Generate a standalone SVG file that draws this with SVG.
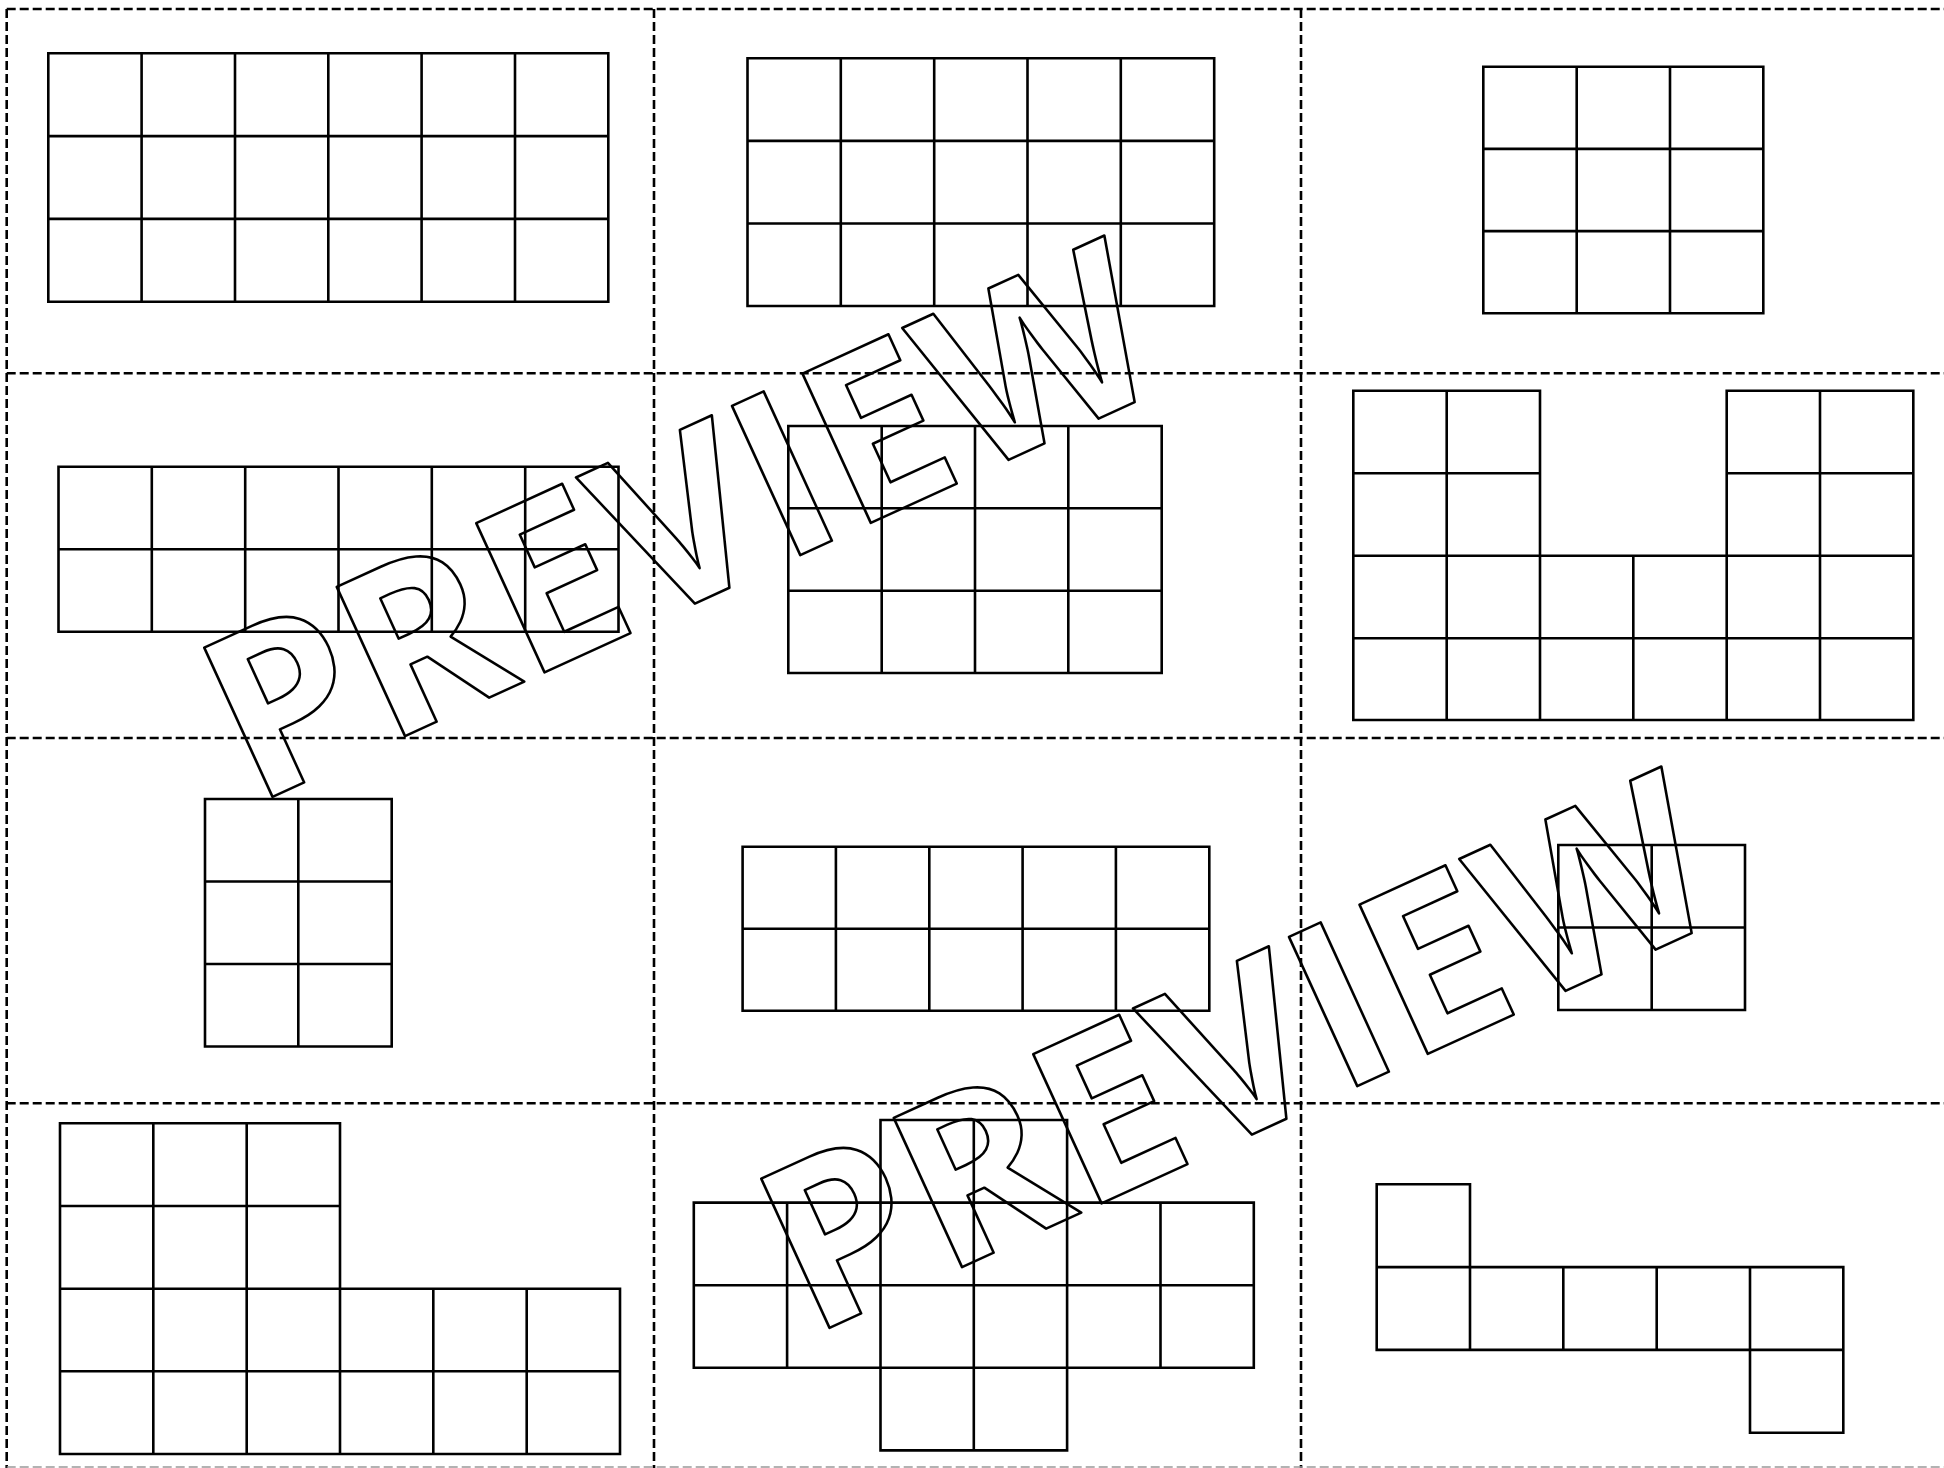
<svg xmlns="http://www.w3.org/2000/svg" width="1944" height="1468" viewBox="0 0 1944 1468">
<style>
.dash{stroke:#000;stroke-width:2.6;stroke-dasharray:9 4;fill:none}
.g{stroke:#000;stroke-width:2.6;fill:none;stroke-linecap:square}
.wm{font-family:"Open Sans","Noto Sans",sans-serif;font-weight:700;font-size:230px;letter-spacing:1.5px;fill:none;stroke:#000;stroke-width:2.6;stroke-linejoin:round}
</style>
<rect width="1944" height="1468" fill="#fff"/>
<g id="cut-lines">
<path class="dash" d="M6.7,9H1944 M6.7,373.3H1944 M6.7,738H1944 M6.7,1103.3H1944 M6.7,9V1468 M654,9V1468 M1301,9V1468"/>
<path d="M6.7,1467H1944" stroke="#999" stroke-width="1.6" stroke-dasharray="9 4" fill="none"/>
</g>
<g id="shape-r1c1"><path class="g" d="M48.3,53.3H608.3V301.7H48.3Z M141.6,53.3V301.7 M235,53.3V301.7 M328.3,53.3V301.7 M421.6,53.3V301.7 M515,53.3V301.7 M48.3,136.1H608.3 M48.3,218.9H608.3"/></g>
<g id="shape-r1c2"><path class="g" d="M747.5,58.3H1214.2V306H747.5Z M840.8,58.3V306 M934.2,58.3V306 M1027.5,58.3V306 M1120.8,58.3V306 M747.5,140.9H1214.2 M747.5,223.5H1214.2"/></g>
<g id="shape-r1c3"><path class="g" d="M1483.3,66.7H1763.3V313.3H1483.3Z M1576.7,66.7V313.3 M1670,66.7V313.3 M1483.3,148.9H1763.3 M1483.3,231.1H1763.3"/></g>
<g id="shape-r2c1"><path class="g" d="M58.5,466.7H618.5V631.7H58.5Z M151.8,466.7V631.7 M245.2,466.7V631.7 M338.5,466.7V631.7 M431.8,466.7V631.7 M525.2,466.7V631.7 M58.5,549.2H618.5"/></g>
<g id="shape-r2c2"><path class="g" d="M788.3,426H1161.7V673H788.3Z M881.7,426V673 M975,426V673 M1068.3,426V673 M788.3,508.3H1161.7 M788.3,590.7H1161.7"/></g>
<g id="shape-r2c3"><path class="g" d="M1353.3,390.7H1540V555.7H1726.7V390.7H1913.3V720H1353.3Z M1446.7,390.7V720 M1540,390.7V720 M1633.3,555.7V720 M1726.7,390.7V720 M1820,390.7V720 M1353.3,473.3H1540 M1726.7,473.3H1913.3 M1353.3,555.7H1913.3 M1353.3,638.3H1913.3"/></g>
<g id="shape-r3c1"><path class="g" d="M205,799H391.7V1046.5H205Z M298.3,799V1046.5 M205,881.5H391.7 M205,964H391.7"/></g>
<g id="shape-r3c2"><path class="g" d="M742.6,846.8H1209.3V1010.8H742.6Z M835.9,846.8V1010.8 M929.3,846.8V1010.8 M1022.6,846.8V1010.8 M1115.9,846.8V1010.8 M742.6,928.8H1209.3"/></g>
<g id="shape-r3c3"><path class="g" d="M1558.3,845H1745V1010H1558.3Z M1651.7,845V1010 M1558.3,927.5H1745"/></g>
<g id="shape-r4c1"><path class="g" d="M60,1123.3H340V1288.7H620V1454H60Z M153.3,1123.3V1454 M246.7,1123.3V1454 M340,1288.7V1454 M433.3,1288.7V1454 M526.7,1288.7V1454 M60,1206H340 M60,1288.7H620 M60,1371.3H620"/></g>
<g id="shape-r4c2"><path class="g" d="M880.5,1120H1067.1V1202.6H1253.8V1367.8H1067.1V1450.4H880.5V1367.8H693.8V1202.6H880.5Z M973.8,1120V1450.4 M787.1,1202.6V1367.8 M880.5,1202.6V1367.8 M1067.1,1202.6V1367.8 M1160.5,1202.6V1367.8 M693.8,1202.6H1253.8 M693.8,1285.2H1253.8 M693.8,1367.8H1253.8"/></g>
<g id="shape-r4c3"><path class="g" d="M1376.7,1184.3H1470V1267.1H1843.3V1432.7H1750V1349.9H1376.7Z M1470,1267.1V1349.9 M1563.3,1267.1V1349.9 M1656.7,1267.1V1349.9 M1750,1267.1V1349.9 M1376.7,1267.1H1470 M1750,1349.9H1843.3"/></g>
<g id="watermark-1"><text class="wm" transform="translate(270,798) rotate(-24.6)" x="-18" y="0">PREVIEW</text></g>
<g id="watermark-2"><text class="wm" transform="translate(827,1329) rotate(-24.6)" x="-18" y="0">PREVIEW</text></g>
</svg>
